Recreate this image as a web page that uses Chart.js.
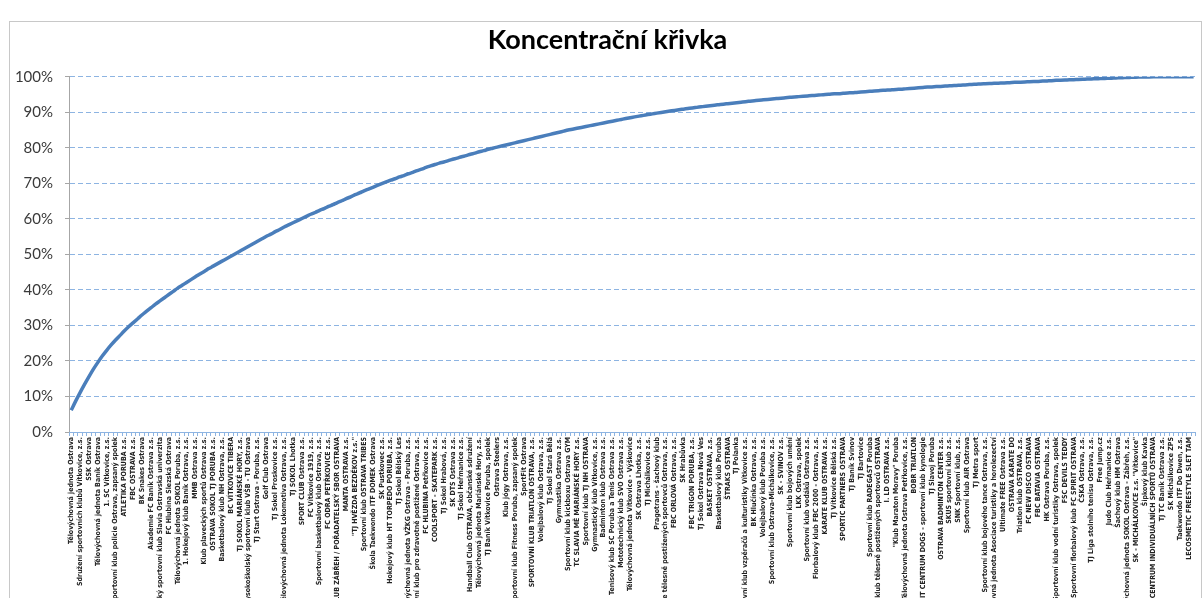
<!DOCTYPE html>
<html>
<head>
<meta charset="utf-8">
<script src="https://cdn.jsdelivr.net/npm/chart.js@4.4.1/dist/chart.umd.min.js"></script>
<style>
  html, body { margin: 0; padding: 0; background: #fff; overflow: hidden; }
  #wrap { position: absolute; left: 0; top: 0; width: 1203px; height: 598px; }
  #frame { position: absolute; left: 9px; top: 21px; width: 1191px; height: 590px;
           border: 1px solid #c8c8c8; border-bottom: none; }
</style>
</head>
<body>
<div id="frame"></div>
<div id="wrap"><canvas id="koncentrace"></canvas></div>
<script>
// Club names shown on the axis (every second category carries a visible label)
const clubNames = [
    'Tělovýchovná jednota Ostrava',
    'Sdružení sportovních klubů Vítkovice, z.s.',
    'SSK Ostrava',
    'Tělovýchovná jednota Baník Ostrava',
    '1. SC Vítkovice, z.s.',
    'Sportovní klub policie Ostrava, zapsaný spolek',
    'ATLETIKA PORUBA z.s.',
    'FBC OSTRAVA z.s.',
    'BK Snakes Ostrava',
    'Akademie FC Baník Ostrava z.s.',
    'Vysokoškolský sportovní klub Slavia Ostravská univerzita',
    'FC Hlubina Slezská Ostrava',
    'Tělovýchovná jednota SOKOL Poruba, z.s.',
    '1. Hokejový klub Baník Ostrava, z.s.',
    'MMB Ostrava z.s.',
    'Klub plaveckých sportů Ostrava z.s.',
    'OSTRAVA SOKOL TJ PORUBA z.s.',
    'Basketbalový klub NH Ostrava, z.s.',
    'BC VÍTKOVICE TIBERA',
    'TJ SOKOL MARIÁNSKÉ HORY, z.s.',
    'Vysokoškolský sportovní klub VŠB - TU Ostrava',
    'TJ Start Ostrava - Poruba, z.s.',
    'Golf Club Ostrava',
    'TJ Sokol Proskovice z.s.',
    'Tělovýchovná jednota Lokomotiva Ostrava, z.s.',
    'TJ SOKOL Lhotka',
    'SPORT CLUB Ostrava z.s.',
    'FC Vítkovice 1919, z.s.',
    'Sportovní basketbalový klub Ostrava, z.s.',
    'FC ODRA PETŘKOVICE z.s.',
    'SPORTOVNÍ KLUB ZÁBŘEH / POŘADATELSKÝ SBOR OSTRAVA',
    'MANTA OSTRAVA z.s.',
    '"TJ HVĚZDA BEZDĚKOV z.s."',
    'Sportovní klub OSTRAVA TRIBES',
    'Škola Taekwondo ITF DOMEK Ostrava',
    'SK Pustkovec z.s.',
    'Hokejový klub HT TORPEDO PORUBA, z.s.',
    'TJ Sokol Bělský Les',
    'Tělovýchovná jednota VŽKG Ostrava - Poruba, z.s.',
    'Sportovní klub pro zdravotně postižené Ostrava, z.s.',
    'FC HLUBINA Petřkovice z.s.',
    'COOLSPORT - SKATEPARK z.s.',
    'TJ Sokol Hrabová, z.s.',
    'SK DTS Ostrava z.s.',
    'TJ Sokol Heřmanice z.s.',
    'Handball Club OSTRAVA, občanské sdružení',
    'Tělovýchovná jednota Mariánské Hory, z.s.',
    'TJ Baník Vítkovice Poruba, spolek',
    'Ostrava Steelers',
    'Klub jógy Ostrava, z.s.',
    'Sportovní klub Fitness Poruba, zapsaný spolek',
    'SportFit Ostrava',
    'SPORTOVNÍ KLUB TRIATLON OSTRAVA, z.s.',
    'Volejbalový klub Ostrava, z.s.',
    'TJ Sokol Stará Bělá',
    'Gymnastika Ostrava z.s.',
    'Sportovní klub kickboxu Ostrava GYM',
    'TC SLAVIA MĚ MARIÁNSKÉ HORY z.s.',
    'Sportovní klub TJ NH OSTRAVA',
    'Gymnastický klub Vítkovice, z.s.',
    'Badminton klub Ostrava z.s.',
    'Tenisový klub SC Poruba a Tenis Ostrava z.s.',
    'Mototechnický klub SVO Ostrava z.s.',
    'Tělovýchovná jednota Vítkovice - Výškovice',
    'SK Ostrava Lhotka, z.s.',
    'TJ Michálkovice z.s.',
    'Pragotrans - šachový klub',
    'Česká asociace tělesně postižených sportovců Ostrava, z.s.',
    'FBC ORLOVÁ Ostrava, z.s.',
    'SK Hrabůvka',
    'FBC TRIGON PORUBA, z.s.',
    'TJ Sokol Ostrava Nová Ves',
    'BASKET OSTRAVA, z.s.',
    'Basketbalový klub Poruba',
    'ŠTRAKS OSTRAVA',
    'TJ Polanka',
    'Sportovní klub vzpěračů a kulturistiky Vítkovice z.s.',
    'BK Hlučínka Ostrava, z.s.',
    'Volejbalový klub Poruba z.s.',
    'Sportovní klub Ostrava-Michálkovice, z.s.',
    'SK - SVINOV z.s.',
    'Sportovní klub bojových umění',
    'LKK Ostrava, spolek',
    'Sportovní klub vodáků Ostrava z.s.',
    'Florbalový klub FBC 2000 - Ostrava, z.s.',
    'KARATE KLUB OSTRAVA z.s.',
    'TJ Vítkovice Bělská z.s.',
    'SPORTIC PARTNERS OSTRAVA',
    'TJ Baník Svinov',
    'TJ Bartovice',
    'Sportovní klub RADEGAST Poruba',
    'Sportovní klub tělesně postižených sportovců OSTRAVA',
    'I. LD OSTRAVA z.s.',
    '"Klub Maraton Moravy" Poruba',
    'Tělovýchovná jednota Ostrava Petřkovice, z.s.',
    'BOBR TRIATLON',
    'FIT CENTRUM DOGS - sportovní klub kynologie',
    'TJ Slavoj Poruba',
    'OSTRAVA BADMINTON CENTER z.s.',
    'SKUS sportovní klub z.s.',
    'SNK Sportovní klub, z.s.',
    'Sportovní klub AIR Ostrava',
    'TJ Metra sport',
    'Sportovní klub bojového tance Ostrava, z.s.',
    'Tělovýchovná jednota Asociace turistiky a horolezectví',
    'Ultimate FREE Ostrava z.s.',
    'OSTRAVA KARATE DO',
    'Triatlon klub OSTRAVA, z.s.',
    'FC NEW DISCO OSTRAVA',
    'FBC BATAVIA OSTRAVA',
    'HK Ostrava Poruba, z.s.',
    'Sportovní klub vodní turistiky Ostrava, spolek',
    'FSC DEVILS TEDDY',
    'Sportovní florbalový klub FC SPIRIT OSTRAVA',
    'ČSKA Ostrava, z.s.',
    'TJ Liga stolního tenisu Ostrava, z.s.',
    'Free Jump.cz',
    'Judo Club Heřmanice z.s.',
    'Šachový klub HM Ostrava',
    'Tělovýchovná jednota SOKOL Ostrava - Zábřeh, z.s.',
    'SK - MICHÁLKOVICE z.s. "Vítkovice"',
    'Šipkový klub Kavka',
    'CENTRUM INDIVIDUÁLNÍCH SPORTŮ OSTRAVA',
    'TJ TC Baník Ostrava z.s.',
    'SK Michálkovice ZPS',
    'Taekwondo ITF Do Dwen, z.s.',
    'LECOSMETIC FREESTYLE SLET TAM'
];

// Cumulative share (%), one value per category
const cumulativeShare = [
    6.1, 8.7, 11.1, 13.4, 15.6, 17.7, 19.6, 21.4, 23.0, 24.5,
    25.9, 27.2, 28.5, 29.7, 30.8, 31.9, 33.0, 34.0, 35.0, 36.0,
    36.9, 37.8, 38.7, 39.6, 40.5, 41.3, 42.1, 42.9, 43.7, 44.5,
    45.2, 46.0, 46.7, 47.4, 48.1, 48.8, 49.5, 50.2, 50.9, 51.6,
    52.3, 53.0, 53.7, 54.4, 55.1, 55.7, 56.4, 57.0, 57.7, 58.3,
    58.9, 59.5, 60.1, 60.7, 61.3, 61.8, 62.4, 62.9, 63.5, 64.0,
    64.6, 65.1, 65.7, 66.2, 66.8, 67.3, 67.9, 68.4, 68.9, 69.4,
    69.9, 70.4, 70.9, 71.3, 71.8, 72.2, 72.7, 73.1, 73.6, 74.0,
    74.5, 74.9, 75.3, 75.7, 76.0, 76.4, 76.8, 77.1, 77.5, 77.8,
    78.2, 78.5, 78.9, 79.2, 79.6, 79.9, 80.2, 80.5, 80.8, 81.1,
    81.4, 81.7, 82.0, 82.3, 82.6, 82.9, 83.2, 83.5, 83.8, 84.1,
    84.4, 84.7, 85.0, 85.25, 85.5, 85.75, 86.0, 86.25, 86.5, 86.75,
    87.0, 87.25, 87.5, 87.75, 88.0, 88.25, 88.48, 88.71, 88.93, 89.14,
    89.36, 89.56, 89.77, 89.97, 90.16, 90.35, 90.54, 90.72, 90.89, 91.06,
    91.23, 91.39, 91.55, 91.71, 91.86, 92.0, 92.15, 92.3, 92.44, 92.58,
    92.72, 92.86, 93.0, 93.13, 93.26, 93.39, 93.51, 93.63, 93.75, 93.87,
    93.99, 94.1, 94.21, 94.32, 94.42, 94.52, 94.62, 94.72, 94.81, 94.91,
    95.0, 95.1, 95.2, 95.25, 95.35, 95.45, 95.5, 95.6, 95.7, 95.8,
    95.9, 96.0, 96.1, 96.2, 96.25, 96.35, 96.45, 96.5, 96.6, 96.7,
    96.8, 96.9, 97.0, 97.1, 97.15, 97.25, 97.3, 97.4, 97.45, 97.55,
    97.6, 97.7, 97.75, 97.85, 97.9, 98.0, 98.05, 98.1, 98.15, 98.2,
    98.25, 98.3, 98.4, 98.45, 98.5, 98.55, 98.6, 98.65, 98.7, 98.8,
    98.85, 98.9, 99.0, 99.05, 99.1, 99.15, 99.2, 99.25, 99.3, 99.35,
    99.4, 99.45, 99.5, 99.55, 99.6, 99.65, 99.7, 99.75, 99.8, 99.85,
    99.9, 99.92, 99.94, 99.96, 99.98, 100, 100, 100, 100, 100,
    100, 100, 100, 100
];

const yTicks = [0, 10, 20, 30, 40, 50, 60, 70, 80, 90, 100];

// every second category gets a name on the axis
const categories = clubNames.flatMap(name => [name, '']);

const ctx = document.getElementById('koncentrace').getContext('2d');

const chart = new Chart(ctx, {
    type: 'line',
    data: {
        labels: categories,
        datasets: [{
            label: 'Koncentrační křivka',
            data: cumulativeShare,
            borderColor: '#4a7ebb',
            borderWidth: 3.5,
            pointRadius: 0,
            cubicInterpolationMode: 'monotone',
            fill: false
        }]
    },
    options: {
        responsive: true,
        maintainAspectRatio: false,
        animation: false,
        layout: {
            // left padding pushes the centred title a bit to the right, like in the original
            padding: { left: 16, right: 4, top: 0, bottom: 0 }
        },
        plugins: {
            legend: { display: false },
            tooltip: { enabled: false },
            title: {
                display: true,
                text: 'Koncentrační křivka',
                color: '#000',
                font: { family: 'Lato, "Liberation Sans", sans-serif', size: 27, weight: 'bold' },
                padding: { top: 24, bottom: 20.4 }
            }
        },
        scales: {
            y: {
                min: 0,
                max: 100,
                afterBuildTicks: scale => {
                    scale.ticks = yTicks.map(v => ({ value: v }));
                },
                afterFit: scale => { scale.width = 53; },
                ticks: {
                    color: '#3a3a3a',
                    padding: 12,
                    font: { family: 'Lato, "Liberation Sans", sans-serif', size: 15 },
                    callback: v => v + '%'
                },
                grid: {
                    color: '#8db4e2',
                    lineWidth: 1,
                    drawTicks: true,
                    tickLength: 4,
                    tickColor: '#a6a6a6'
                },
                border: { color: '#a6a6a6', dash: [5, 3] }
            },
            x: {
                offset: true,
                afterFit: scale => { scale.height = 166; },
                ticks: {
                    autoSkip: false,
                    maxRotation: 90,
                    minRotation: 90,
                    padding: 1,
                    color: '#222',
                    font: { family: '"Liberation Sans Narrow", "DejaVu Sans Condensed", "Liberation Sans", sans-serif', size: 7, weight: 'bold' }
                },
                grid: {
                    offset: true,
                    drawOnChartArea: false,
                    drawTicks: true,
                    tickLength: 4,
                    tickColor: '#8db4e2'
                },
                border: { color: '#8db4e2' }
            }
        }
    }
});
</script>
</body>
</html>
